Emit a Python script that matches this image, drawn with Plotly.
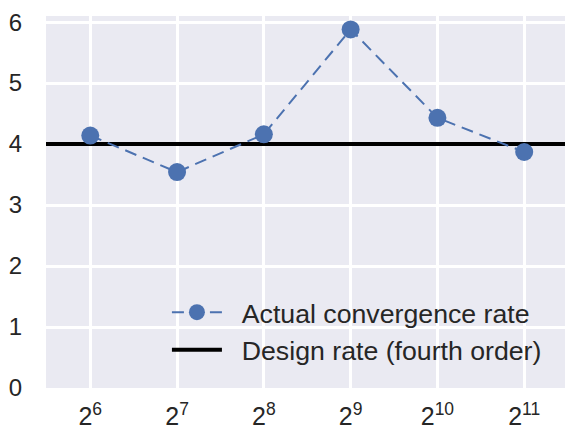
import plotly.graph_objects as go
import math

n_values = [64, 128, 256, 512, 1024, 2048]
tick_labels = ["2<sup>6</sup>", "2<sup>7</sup>", "2<sup>8</sup>", "2<sup>9</sup>", "2<sup>10</sup>", "2<sup>11</sup>"]
actual_rate = [4.14, 3.54, 4.16, 5.88, 4.43, 3.87]
design_rate = 4.0
y_ticks = [0, 1, 2, 3, 4, 5, 6]

x_lo, x_hi = 5.49, 11.47
pad = "\u00a0\u00a0"

fig = go.Figure()
fig.add_trace(go.Scatter(
    x=[2 ** x_lo, 2 ** x_hi], y=[design_rate, design_rate], mode="lines",
    line=dict(color="black", width=4), name=pad + "Design rate (fourth order)",
    showlegend=True, hoverinfo="skip",
))
fig.add_trace(go.Scatter(
    x=n_values, y=actual_rate, mode="lines+markers",
    line=dict(color="#4C72B0", width=2, dash="12px,7px"),
    marker=dict(color="#4C72B0", size=18),
    name=pad + "Actual convergence rate",
))

fig.update_layout(
    width=565, height=428,
    margin=dict(l=46, r=0, t=16, b=40),
    paper_bgcolor="white", plot_bgcolor="#EAEAF2",
    font=dict(family="Liberation Sans, Arial", size=24, color="#262626"),
    showlegend=True,
    legend=dict(
        x=0.233, xanchor="left", y=0.268, yanchor="top",
        bgcolor="rgba(0,0,0,0)", traceorder="reversed",
        itemwidth=50, font=dict(size=26.7, color="#262626"),
    ),
    xaxis=dict(
        type="log", range=[x_lo * math.log10(2), x_hi * math.log10(2)],
        tickvals=n_values, ticktext=tick_labels, automargin=False,
        showgrid=True, gridcolor="white", gridwidth=2.5, zeroline=False,
        showline=False, ticks="outside", ticklen=6, tickcolor="rgba(0,0,0,0)",
        tickfont=dict(size=25),
    ),
    yaxis=dict(
        range=[0, 6.1], tickvals=y_ticks, automargin=False,
        showgrid=True, gridcolor="white", gridwidth=2.5, zeroline=False,
        showline=False, ticks="outside", ticklen=18, tickcolor="rgba(0,0,0,0)",
        tickfont=dict(size=24),
    ),
)

fig.write_html("out.html", config={"displayModeBar": False},
               post_script="document.body.style.margin='0';")
